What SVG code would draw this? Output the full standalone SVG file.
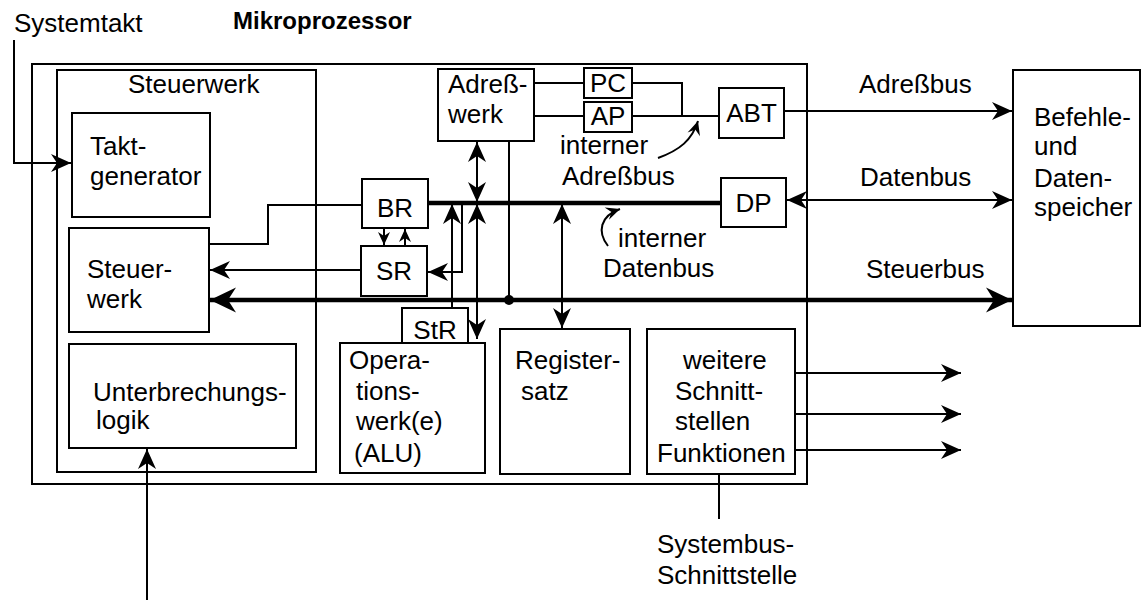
<svg xmlns="http://www.w3.org/2000/svg" width="1141" height="600" viewBox="0 0 1141 600">
  <style>
    text { font-family: "Liberation Sans", Arial, sans-serif; font-size: 26px; fill: #000; }
    .title { font-weight: bold; font-size: 24px; }
    .box { fill: #fff; stroke: #000; stroke-width: 2; }
    .frame { fill: none; stroke: #000; stroke-width: 2; }
    .ln { fill: none; stroke: #000; stroke-width: 2; }
    .bus { fill: none; stroke: #000; stroke-width: 4.5; }
    .arr { marker-end: url(#ah); }
    .arr2 { marker-start: url(#ah); marker-end: url(#ah); }
    .sarr { marker-end: url(#ahm); }
    .barr2 { marker-start: url(#ahb); marker-end: url(#ahb); }
  </style>
  <defs>
    <!-- standard notched arrowhead -->
    <marker id="ah" markerUnits="userSpaceOnUse" viewBox="-21 -10 22 20" refX="0" refY="0" markerWidth="22" markerHeight="20" orient="auto-start-reverse">
      <path d="M0,0 L-20,-9 L-14,0 L-20,9 Z" fill="#000"/>
    </marker>
    <!-- small arrowhead between BR and SR -->
    <marker id="ahm" markerUnits="userSpaceOnUse" viewBox="-14 -7 15 14" refX="0" refY="0" markerWidth="15" markerHeight="14" orient="auto">
      <path d="M0,0 L-13,-6 L-9,0 L-13,6 Z" fill="#000"/>
    </marker>
    <!-- arrowhead for label pointers -->
    <marker id="ahs" markerUnits="userSpaceOnUse" viewBox="-15 -8 16 16" refX="0" refY="0" markerWidth="16" markerHeight="16" orient="auto">
      <path d="M0,0 L-14,-6.5 L-9,0 L-14,6.5 Z" fill="#000"/>
    </marker>
    <!-- heavy arrowhead for the control bus -->
    <marker id="ahb" markerUnits="userSpaceOnUse" viewBox="-27 -14 28 28" refX="0" refY="0" markerWidth="28" markerHeight="28" orient="auto-start-reverse">
      <path d="M0,0 L-26,-12.5 L-18,0 L-26,12.5 Z" fill="#000"/>
    </marker>
  </defs>

  <!-- headings -->
  <text x="14" y="32">Systemtakt</text>
  <text class="title" x="233" y="29">Mikroprozessor</text>

  <!-- processor frame and control unit frame -->
  <g id="mikroprozessor">
    <rect class="frame" x="32" y="64" width="775" height="420"/>
  </g>
  <g id="steuerwerk-gruppe">
    <rect class="frame" x="57" y="70" width="259" height="402"/>
    <text x="128" y="93">Steuerwerk</text>
  </g>

  <g id="taktgenerator">
    <rect class="box" x="72" y="113" width="138" height="104"/>
    <text x="90" y="155">Takt-</text>
    <text x="90" y="185">generator</text>
  </g>
  <g id="steuerwerk">
    <rect class="box" x="69" y="228" width="140" height="104"/>
    <text x="87" y="278">Steuer-</text>
    <text x="87" y="308">werk</text>
  </g>
  <g id="unterbrechungslogik">
    <rect class="box" x="69" y="344" width="227" height="104"/>
    <text x="93" y="401">Unterbrechungs-</text>
    <text x="96" y="429">logik</text>
  </g>

  <!-- connectors -->
  <g id="connectors">
    <!-- clock input -->
    <polyline class="ln arr" points="14,40 14,163 71,163"/>
    <!-- interrupt input -->
    <line class="ln arr" x1="147" y1="600" x2="147" y2="449"/>
    <!-- BR to control unit -->
    <polyline class="ln" points="362,205 268,205 268,244 209,244"/>
    <!-- SR to control unit -->
    <line class="ln arr" x1="361" y1="270" x2="210" y2="270"/>
    <!-- control bus -->
    <line class="bus barr2" x1="210" y1="300" x2="1012" y2="300"/>
    <!-- internal data bus -->
    <line class="bus" x1="428" y1="203" x2="721" y2="203"/>
    <!-- BR <-> SR -->
    <line class="ln sarr" x1="384" y1="228" x2="384" y2="245"/>
    <line class="ln sarr" x1="405" y1="246" x2="405" y2="229"/>
    <!-- StR to data bus -->
    <line class="ln arr" x1="452" y1="308" x2="452" y2="204"/>
    <!-- data bus to SR -->
    <polyline class="ln arr" points="462,203 462,272 428,272"/>
    <!-- address unit <-> data bus -->
    <line class="ln arr2" x1="477" y1="142" x2="477" y2="202"/>
    <!-- data bus <-> ALU -->
    <line class="ln arr2" x1="477" y1="204" x2="477" y2="339"/>
    <!-- address unit to control bus -->
    <line class="ln" x1="509" y1="141" x2="509" y2="300"/>
    <circle cx="509" cy="300" r="5" fill="#000"/>
    <!-- data bus <-> register set -->
    <line class="ln arr2" x1="562" y1="204" x2="562" y2="328"/>
    <!-- address unit to PC / AP -->
    <line class="ln" x1="534" y1="83" x2="584" y2="83"/>
    <line class="ln" x1="534" y1="116" x2="584" y2="116"/>
    <polyline class="ln" points="632,83 682,83 682,116"/>
    <line class="ln" x1="632" y1="116" x2="719" y2="116"/>
    <!-- external buses -->
    <line class="ln arr" x1="784" y1="111" x2="1012" y2="111"/>
    <line class="ln arr2" x1="787" y1="200" x2="1012" y2="200"/>
    <!-- label pointers -->
    <path class="ln" d="M658,158 C680,150 692,140 698,121" marker-end="url(#ahs)"/>
    <path class="ln" d="M608,246 C597,232 600,216 620,209" marker-end="url(#ahs)"/>
    <!-- peripheral outputs -->
    <line class="ln arr" x1="795" y1="373" x2="961" y2="373"/>
    <line class="ln arr" x1="795" y1="414" x2="961" y2="414"/>
    <line class="ln arr" x1="795" y1="450" x2="961" y2="450"/>
    <!-- system bus interface lead -->
    <line class="ln" x1="719" y1="474" x2="719" y2="519"/>
  </g>

  <g id="br">
    <rect class="box" x="362" y="179" width="66" height="49"/>
    <text x="395" y="217" text-anchor="middle">BR</text>
  </g>
  <g id="sr">
    <rect class="box" x="361" y="246" width="66" height="50"/>
    <text x="394" y="280" text-anchor="middle">SR</text>
  </g>
  <g id="str">
    <rect class="box" x="402" y="308" width="66" height="35"/>
    <text x="435" y="339" text-anchor="middle">StR</text>
  </g>
  <g id="adresswerk">
    <rect class="box" x="438" y="69" width="96" height="72"/>
    <text x="448" y="93">Adreß-</text>
    <text x="448" y="123">werk</text>
  </g>
  <g id="pc">
    <rect class="box" x="584" y="68" width="48" height="30"/>
    <text x="608" y="92" text-anchor="middle">PC</text>
  </g>
  <g id="ap">
    <rect class="box" x="584" y="102" width="48" height="30"/>
    <text x="608" y="125" text-anchor="middle">AP</text>
  </g>
  <g id="abt">
    <rect class="box" x="719" y="88" width="65" height="50"/>
    <text x="751.5" y="122" text-anchor="middle">ABT</text>
  </g>
  <g id="dp">
    <rect class="box" x="721" y="178" width="65" height="49"/>
    <text x="753.5" y="212" text-anchor="middle">DP</text>
  </g>
  <g id="operationswerk">
    <rect class="box" x="340" y="343" width="145" height="130"/>
    <text x="349" y="369">Opera-</text>
    <text x="356" y="400">tions-</text>
    <text x="356" y="430">werk(e)</text>
    <text x="354" y="462">(ALU)</text>
  </g>
  <g id="registersatz">
    <rect class="box" x="500" y="329" width="130" height="145"/>
    <text x="515" y="369">Register-</text>
    <text x="521" y="400">satz</text>
  </g>
  <g id="schnittstellen">
    <rect class="box" x="647" y="329" width="148" height="145"/>
    <text x="683" y="369">weitere</text>
    <text x="675" y="400">Schnitt-</text>
    <text x="675" y="430">stellen</text>
    <text x="657" y="462">Funktionen</text>
  </g>
  <g id="speicher">
    <rect class="box" x="1013" y="70" width="127" height="256"/>
    <text x="1034" y="126">Befehle-</text>
    <text x="1034" y="155">und</text>
    <text x="1034" y="187">Daten-</text>
    <text x="1034" y="216">speicher</text>
  </g>

  <!-- bus labels -->
  <text x="560" y="154">interner</text>
  <text x="562" y="185">Adreßbus</text>
  <text x="618" y="247">interner</text>
  <text x="603" y="277">Datenbus</text>
  <text x="859" y="93">Adreßbus</text>
  <text x="860" y="186">Datenbus</text>
  <text x="866" y="278">Steuerbus</text>
  <text x="657" y="553">Systembus-</text>
  <text x="657" y="584">Schnittstelle</text>
</svg>
